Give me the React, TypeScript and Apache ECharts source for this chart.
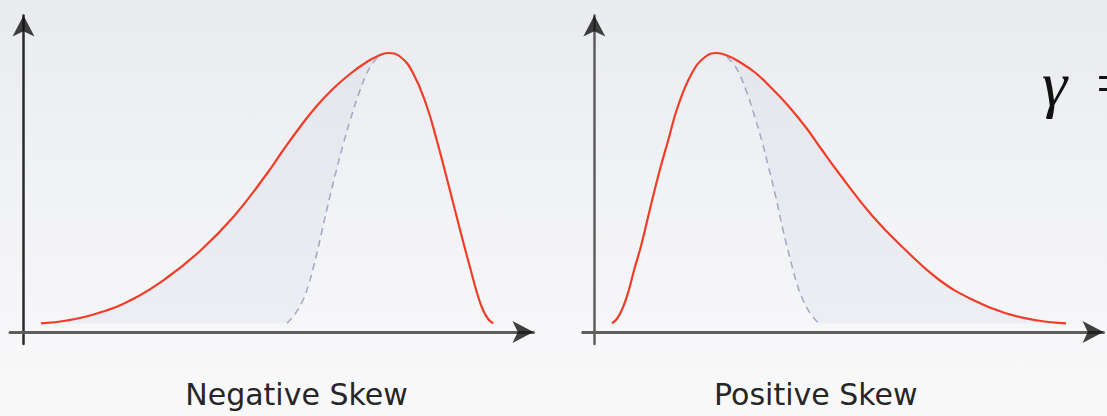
import React, { useEffect, useRef } from "react";
import * as echarts from "echarts";

// ---- texts ----
const panelLabels = ["Negative Skew", "Positive Skew"];
const formulaSymbol = "γ";
const formulaEquals = "=";

// ---- axis extents (data units) ----
const negAxisX = [-1.35, 51.0];
const posAxisX = [-1.16, 50.92];
const axisY = [-1.2, 31.65];

// ---- Negative skew panel ----
const negSkewCurve: [number, number][] = [
  [1.75, 0.87], [4.35, 1.15], [7.65, 1.95], [10.95, 3.3], [14.3, 5.4],
  [17.65, 8.1], [20.98, 11.5], [24.32, 15.8], [25.98, 18.2], [27.65, 20.5],
  [29.32, 22.6], [30.98, 24.35], [32.65, 25.8], [34.32, 27.0], [35.45, 27.6],
  [36.45, 27.9], [37.65, 27.55], [38.95, 25.9], [40.32, 22.6], [41.32, 19.2],
  [42.22, 15.8], [43.12, 12.3], [44.05, 8.7], [44.75, 6.1], [45.35, 3.9],
  [45.95, 2.2], [46.5, 1.25], [46.98, 0.87],
];
const negSymmetricCurve: [number, number][] = [
  [26.35, 0.87], [27.15, 1.8], [27.95, 3.2], [28.5, 4.7], [29.05, 6.7],
  [29.8, 9.9], [30.65, 13.6], [31.35, 16.4], [31.95, 18.7], [32.65, 21.1],
  [33.45, 23.6], [34.25, 25.7], [34.85, 26.8], [35.45, 27.5],
];

// ---- Positive skew panel ----
const posSkewCurve: [number, number][] = [
  [1.77, 0.87], [2.25, 1.3], [2.8, 2.3], [3.4, 4.0], [3.98, 6.2],
  [4.67, 8.6], [5.57, 12.3], [6.47, 15.9], [7.37, 19.1], [8.37, 22.6],
  [9.77, 25.9], [11.07, 27.5], [12.27, 27.9], [13.27, 27.65], [14.37, 27.1],
  [16.07, 25.95], [17.67, 24.45], [19.37, 22.65], [21.17, 20.45], [22.77, 18.2],
  [24.37, 16.0], [27.77, 11.65], [31.07, 8.25], [34.37, 5.3], [37.77, 3.25],
  [41.07, 1.9], [44.37, 1.15], [47.17, 0.87],
];
const posSymmetricCurve: [number, number][] = [
  [13.27, 27.5], [13.87, 26.85], [14.47, 25.9], [15.27, 23.9], [16.07, 21.45],
  [16.77, 19.05], [17.37, 16.7], [18.07, 13.85], [18.87, 10.2], [19.67, 7.0],
  [20.3, 4.7], [20.87, 3.2], [21.6, 1.85], [22.45, 0.87],
];

const RED = "#ef3d28";
const DASH = "#a3aac8";
const SHADE = "rgba(176,188,208,0.13)";
const AXIS_GRAY = "#5e5e5e";
const ARROW = "#111111";

export default function App() {
  const ref = useRef<HTMLDivElement>(null);

  useEffect(() => {
    const el = ref.current;
    if (!el) return;
    const chart = echarts.init(el, null, { renderer: "svg" });

    // shaded regions between skewed curve and symmetric curve
    const negJoinX = negSymmetricCurve[negSymmetricCurve.length - 1][0];
    const negShade = [
      ...negSkewCurve.filter((p) => p[0] <= negJoinX),
      ...negSymmetricCurve.slice().reverse(),
    ];
    const posJoinX = posSymmetricCurve[0][0];
    const posShade = [
      ...posSymmetricCurve,
      ...posSkewCurve.filter((p) => p[0] >= posJoinX).reverse(),
    ];

    const shadeSeries = (poly: [number, number][], idx: number) => ({
      type: "custom",
      coordinateSystem: "cartesian2d",
      xAxisIndex: idx,
      yAxisIndex: idx,
      silent: true,
      z: 1,
      data: [[0, 0]],
      renderItem: (_params: any, api: any) => ({
        type: "polygon",
        shape: { points: poly.map((p) => api.coord(p)) },
        style: { fill: SHADE, stroke: "none" },
      }),
    });

    const lineSeries = (
      data: [number, number][],
      idx: number,
      color: string,
      width: number,
      dashed: boolean,
      z: number
    ) => ({
      type: "line",
      xAxisIndex: idx,
      yAxisIndex: idx,
      data,
      smooth: 0.45,
      symbol: "none",
      silent: true,
      z,
      lineStyle: { color, width, type: dashed ? [7, 5] : "solid" },
    });

    const arrowSeries = (idx: number, xMax: number) => ({
      type: "scatter",
      xAxisIndex: idx,
      yAxisIndex: idx,
      clip: false,
      silent: true,
      z: 5,
      symbol: "arrow",
      symbolSize: [16.5, 21],
      itemStyle: { color: ARROW },
      data: [
        { value: [xMax, 0], symbolRotate: -90 },
        { value: [0, axisY[1]], symbolRotate: 0 },
      ],
    });

    const baseAxis = {
      type: "value",
      axisTick: { show: false },
      axisLabel: { show: false },
      splitLine: { show: false },
    };

    const option: any = {
      animation: false,
      backgroundColor: "transparent",
      grid: [
        { left: 10, right: 573.5, top: 15.5, bottom: 72, outerBoundsMode: "none" },
        { left: 582.7, right: 3.5, top: 15.5, bottom: 72, outerBoundsMode: "none" },
      ],
      xAxis: [
        {
          ...baseAxis,
          gridIndex: 0,
          min: negAxisX[0],
          max: negAxisX[1],
          axisLine: { show: true, onZero: true, lineStyle: { color: AXIS_GRAY, width: 3 } },
        },
        {
          ...baseAxis,
          gridIndex: 1,
          min: posAxisX[0],
          max: posAxisX[1],
          axisLine: { show: true, onZero: true, lineStyle: { color: AXIS_GRAY, width: 3 } },
        },
      ],
      yAxis: [
        {
          ...baseAxis,
          gridIndex: 0,
          min: axisY[0],
          max: axisY[1],
          axisLine: { show: true, onZero: true, lineStyle: { color: "#2a2a2a", width: 2.5 } },
        },
        {
          ...baseAxis,
          gridIndex: 1,
          min: axisY[0],
          max: axisY[1],
          axisLine: { show: true, onZero: true, lineStyle: { color: AXIS_GRAY, width: 2.5 } },
        },
      ],
      series: [
        shadeSeries(negShade, 0),
        shadeSeries(posShade, 1),
        lineSeries(negSymmetricCurve, 0, DASH, 1.6, true, 2),
        lineSeries(posSymmetricCurve, 1, DASH, 1.6, true, 2),
        lineSeries(negSkewCurve, 0, RED, 2.2, false, 3),
        lineSeries(posSkewCurve, 1, RED, 2.2, false, 3),
        arrowSeries(0, negAxisX[1]),
        arrowSeries(1, posAxisX[1]),
      ],
      graphic: [
        {
          type: "text",
          x: 296.5,
          y: 394.5,
          silent: true,
          style: {
            text: panelLabels[0],
            fontFamily: "DejaVu Sans",
            fontSize: 30,
            fill: "#262626",
            align: "center",
            verticalAlign: "middle",
          },
        },
        {
          type: "text",
          x: 815.8,
          y: 394.5,
          silent: true,
          style: {
            text: panelLabels[1],
            fontFamily: "DejaVu Sans",
            fontSize: 30,
            fill: "#262626",
            align: "center",
            verticalAlign: "middle",
          },
        },
        {
          type: "text",
          x: 1042,
          y: 83,
          silent: true,
          style: {
            text: formulaSymbol,
            fontFamily: "Liberation Serif",
            fontStyle: "italic",
            fontSize: 64,
            fill: "#111111",
            align: "left",
            verticalAlign: "middle",
          },
        },
        {
          type: "text",
          x: 1096,
          y: 83,
          silent: true,
          style: {
            text: formulaEquals,
            fontFamily: "Liberation Serif",
            fontSize: 62,
            fill: "#111111",
            align: "left",
            verticalAlign: "middle",
          },
        },
      ],
    };

    chart.setOption(option);
    return () => chart.dispose();
  }, []);

  return (
    <div
      ref={ref}
      style={{
        position: "fixed",
        left: 0,
        top: 0,
        width: 1107,
        height: 416,
        background: "linear-gradient(180deg, #e9ebef 0%, #f1f2f5 45%, #f9f9fa 100%)",
      }}
    />
  );
}
